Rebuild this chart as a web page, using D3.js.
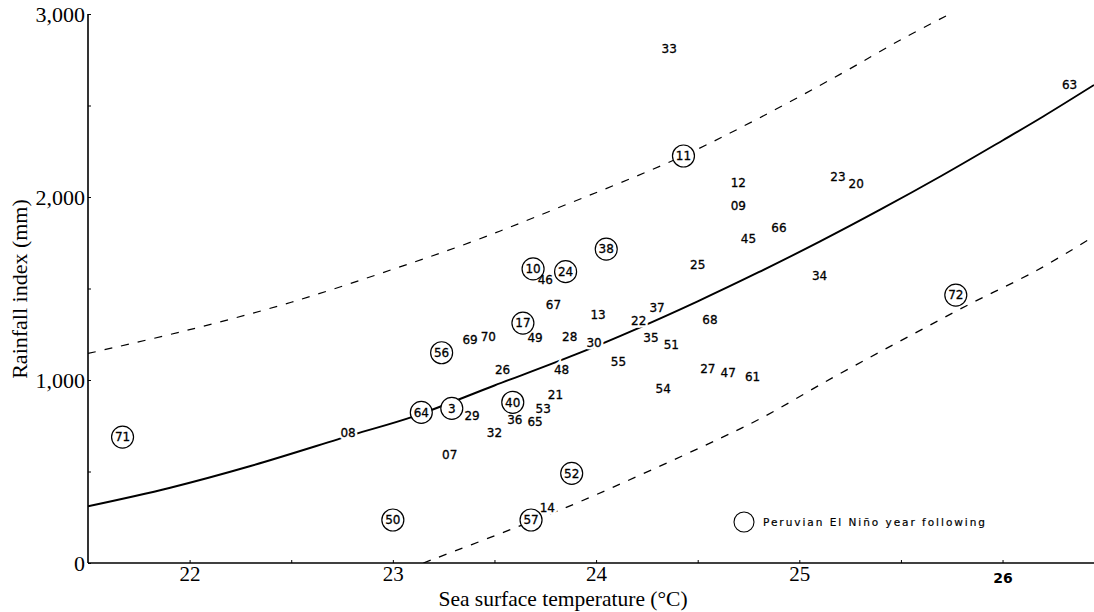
<!DOCTYPE html>
<html>
<head>
<meta charset="utf-8">
<script src="https://cdn.jsdelivr.net/npm/d3@7/dist/d3.min.js"></script>
<style>
  body { margin: 0; background: #fff; }
  svg { display: block; }
</style>
</head>
<body>
<div id="chart"></div>
<script>
// year labels (last two digits) with sea surface temperature and rainfall index
var years = ["33", "11", "12", "09", "23", "20", "63", "45", "66", "38", "10", "24", "46", "25",
  "34", "67", "13", "37", "22", "72", "17", "69", "70", "49", "28", "30", "35", "51", "68", "56",
  "26", "48", "55", "27", "47", "61", "54", "21", "40", "53", "3", "64", "29", "36", "65", "71",
  "08", "32", "07", "52", "57", "14", "50"];
var sst = [24.36, 24.43, 24.70, 24.70, 25.19, 25.28, 26.33, 24.75, 24.90, 24.05, 23.69, 23.85, 23.75, 24.50,
  25.10, 23.79, 24.01, 24.30, 24.21, 25.77, 23.64, 23.38, 23.47, 23.70, 23.87, 23.99, 24.27, 24.37, 24.56, 23.24,
  23.54, 23.83, 24.11, 24.55, 24.65, 24.77, 24.33, 23.80, 23.59, 23.74, 23.29, 23.14, 23.39, 23.60, 23.70, 21.67,
  22.78, 23.50, 23.28, 23.88, 23.68, 23.76, 23.00];
var rainfall = [2812, 2224, 2080, 1951, 2111, 2071, 2612, 1774, 1834, 1715, 1607, 1592, 1550, 1632,
  1572, 1414, 1359, 1395, 1324, 1464, 1311, 1219, 1237, 1233, 1237, 1204, 1233, 1191, 1328, 1149,
  1058, 1058, 1100, 1060, 1040, 1018, 951, 922, 878, 845, 845, 823, 803, 785, 772, 688,
  712, 714, 593, 490, 235, 302, 235];
// years followed by a Peruvian El Nino (circled)
var ninoYears = ["11", "38", "10", "24", "72", "17", "56", "40", "3", "64", "71", "52", "57", "50"];

// fitted curve and the two dashed limits
var fitSst = [21.5, 21.9, 22.3, 22.8, 23.1, 23.5, 23.9, 24.2, 24.5, 24.8, 25.1, 25.4, 25.7, 26.0, 26.2, 26.45];
var fitRain = [310, 410, 530, 700, 800, 970, 1140, 1280, 1430, 1589, 1756, 1932, 2116, 2309, 2440, 2612];
var upperSst = [21.5, 22.0, 22.5, 23.0, 23.4, 23.8, 24.4, 24.8, 25.2, 25.5, 25.75];
var upperRain = [1145, 1275, 1425, 1605, 1760, 1935, 2210, 2430, 2670, 2860, 3005];
var lowerSst = [23.15, 23.55, 23.92, 24.55, 24.81, 25.16, 25.5, 25.83, 26.17, 26.45];
var lowerRain = [0, 170, 335, 650, 790, 1010, 1215, 1410, 1600, 1785];

var xTicks = [22, 23, 24, 25, 26];
var xMinorTicks = [22.5, 23.5, 24.5, 25.5];
var yTicks = [0, 1000, 2000, 3000];
var yMinorTicks = [500, 1500, 2500];

var width = 1094, height = 612;

var x = d3.scaleLinear().domain([21.5, 26.45]).range([88, 1094]);
var y = d3.scaleLinear().domain([0, 3000]).range([563, 14]);

var svg = d3.select("#chart").append("svg")
  .attr("width", width)
  .attr("height", height);

svg.append("defs").append("clipPath")
  .attr("id", "plot")
  .append("rect")
  .attr("x", x.range()[0]).attr("y", 0)
  .attr("width", x.range()[1] - x.range()[0]).attr("height", y.range()[0]);

// axes
function customXAxis(g) {
  g.call(d3.axisBottom(x).tickValues(xTicks).tickFormat(d3.format("d")).tickSize(-3).tickPadding(2));
  g.select(".domain").remove();
  g.selectAll(".tick text")
    .attr("font-family", function(d) { return d === 26 ? "DejaVu Sans" : "Liberation Serif"; })
    .attr("font-size", function(d) { return d === 26 ? "14px" : "21px"; })
    .attr("font-weight", function(d) { return d === 26 ? "bold" : "normal"; })
    .attr("dy", function(d) { return d === 26 ? "1.25em" : "0.75em"; })
    .attr("fill", "#000");
}

function customYAxis(g) {
  g.call(d3.axisLeft(y).tickValues(yTicks).tickFormat(d3.format(",")).tickSize(-3).tickPadding(3));
  g.select(".domain").remove();
  g.selectAll(".tick text")
    .attr("font-family", "Liberation Serif")
    .attr("font-size", "22px")
    .attr("fill", "#000");
}

svg.append("g")
  .attr("transform", "translate(0," + y(0) + ")")
  .call(customXAxis);

svg.append("g")
  .attr("transform", "translate(0," + y(0) + ")")
  .call(d3.axisBottom(x).tickValues(xMinorTicks).tickSize(-3).tickFormat(""))
  .call(function(g) { g.select(".domain").remove(); });

svg.append("g")
  .attr("transform", "translate(" + x.range()[0] + ",0)")
  .call(customYAxis);

svg.append("g")
  .attr("transform", "translate(" + x.range()[0] + ",0)")
  .call(d3.axisLeft(y).tickValues(yMinorTicks).tickSize(-3).tickFormat(""))
  .call(function(g) { g.select(".domain").remove(); });

svg.append("line")
  .attr("x1", x.range()[0]).attr("x2", x.range()[1])
  .attr("y1", y(0)).attr("y2", y(0))
  .attr("stroke", "#000").attr("stroke-width", 1.6);

svg.append("line")
  .attr("x1", x.range()[0]).attr("x2", x.range()[0])
  .attr("y1", y(3000)).attr("y2", y(0))
  .attr("stroke", "#000").attr("stroke-width", 1.6);

// axis titles
svg.append("text")
  .attr("x", 563).attr("y", 606)
  .attr("text-anchor", "middle")
  .attr("font-family", "Liberation Serif")
  .attr("font-size", "21.5px")
  .text("Sea surface temperature (°C)");

svg.append("text")
  .attr("transform", "translate(27,289) rotate(-90)")
  .attr("text-anchor", "middle")
  .attr("font-family", "Liberation Serif")
  .attr("font-size", "22px")
  .text("Rainfall index (mm)");

// curves
var line = d3.line()
  .x(function(d) { return x(d[0]); })
  .y(function(d) { return y(d[1]); })
  .curve(d3.curveCatmullRom.alpha(0.5));

var curves = svg.append("g").attr("clip-path", "url(#plot)");

curves.append("path")
  .datum(d3.zip(fitSst, fitRain))
  .attr("fill", "none")
  .attr("stroke", "#000")
  .attr("stroke-width", 1.9)
  .attr("d", line);

curves.append("path")
  .datum(d3.zip(upperSst, upperRain))
  .attr("fill", "none")
  .attr("stroke", "#000")
  .attr("stroke-width", 1.2)
  .attr("stroke-dasharray", "8,9")
  .attr("d", line);

curves.append("path")
  .datum(d3.zip(lowerSst, lowerRain))
  .attr("fill", "none")
  .attr("stroke", "#000")
  .attr("stroke-width", 1.3)
  .attr("stroke-dasharray", "8,9")
  .attr("d", line);

// year points
var points = years.map(function(d, i) {
  return { year: d, sst: sst[i], rain: rainfall[i], nino: ninoYears.indexOf(d) >= 0 };
});

var marks = svg.append("g")
  .attr("font-family", "DejaVu Sans")
  .attr("font-size", "12px")
  .attr("text-anchor", "middle");

marks.selectAll(".halo")
  .data(points.filter(function(d) { return !d.nino; }))
  .enter().append("text")
  .attr("x", function(d) { return x(d.sst); })
  .attr("y", function(d) { return y(d.rain); })
  .attr("dy", "0.36em")
  .attr("fill", "#fff")
  .attr("stroke", "#fff")
  .attr("stroke-width", 5)
  .text(function(d) { return d.year; });

marks.selectAll("circle")
  .data(points.filter(function(d) { return d.nino; }))
  .enter().append("circle")
  .attr("cx", function(d) { return x(d.sst); })
  .attr("cy", function(d) { return y(d.rain); })
  .attr("r", 11)
  .attr("fill", "#fff")
  .attr("stroke", "#000")
  .attr("stroke-width", 1.2);

marks.selectAll(".label")
  .data(points)
  .enter().append("text")
  .attr("class", "label")
  .attr("x", function(d) { return x(d.sst); })
  .attr("y", function(d) { return y(d.rain); })
  .attr("dy", "0.36em")
  .attr("fill", "#000")
  .attr("stroke", "#000")
  .attr("stroke-width", 0.3)
  .text(function(d) { return d.year; });

// legend
svg.append("circle")
  .attr("cx", 744).attr("cy", 522)
  .attr("r", 10)
  .attr("fill", "none")
  .attr("stroke", "#000")
  .attr("stroke-width", 1.1);

svg.append("text")
  .attr("x", 763).attr("y", 526)
  .attr("font-family", "DejaVu Sans")
  .attr("font-size", "10.5px")
  .attr("textLength", 222)
  .attr("lengthAdjust", "spacing")
  .attr("fill", "#000")
  .attr("stroke", "#000")
  .attr("stroke-width", 0.2)
  .text("Peruvian El Niño year following");
</script>
</body>
</html>
